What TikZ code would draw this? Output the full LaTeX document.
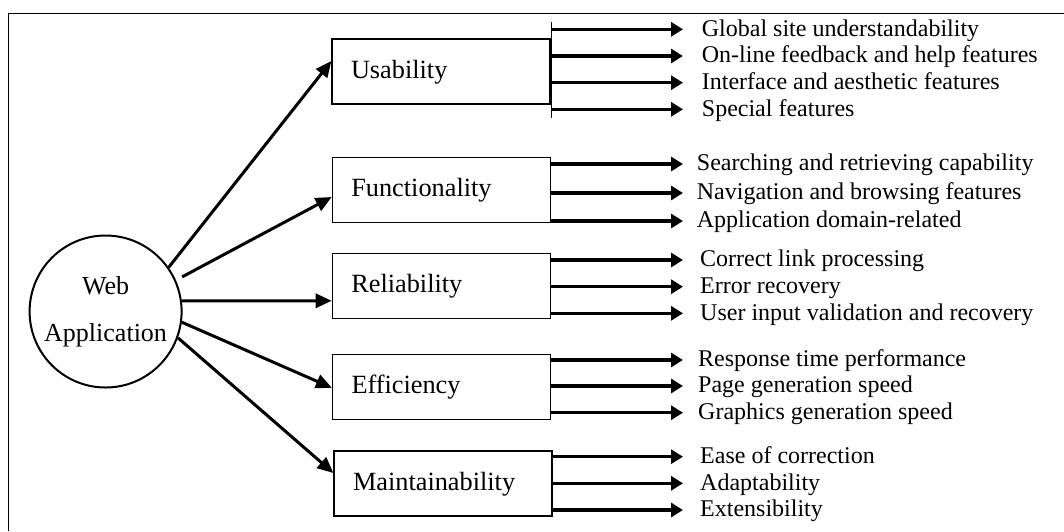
\documentclass[tikz,border=0pt]{standalone}
\usepackage{fontspec}
\setmainfont{Liberation Serif}
\usetikzlibrary{arrows.meta,calc}

\begin{document}
\begin{tikzpicture}[x=1pt,y=-1pt,
    box/.style={draw,line width=1.2pt,minimum width=218pt,minimum height=65pt,
        text width=180pt,align=left,inner xsep=19pt,text height=19pt,text depth=5.6pt,
        font=\fontsize{26.3}{30}\selectfont},
    item/.style={anchor=west,inner sep=0pt,text height=16.8pt,text depth=3.4pt,
        font=\fontsize{24}{28}\selectfont},
    link/.style={line width=3pt,-{Triangle[length=16pt,width=14pt]}},
    sub/.style={line width=3.2pt,-{Triangle[length=12pt,width=14pt]}}]
    \useasboundingbox (0,0) rectangle (1064,531);
    \draw [line width=1.8pt] (1064,13.5) -- (8.5,13.5) -- (8.5,531);
    \node (web) [draw,circle,line width=2pt,minimum size=152pt,align=center,
        font=\fontsize{26}{47}\selectfont] at (105.6,311.5) {Web\\Application};
    \node (usab) [box] at (441,71.5) {Usability};
    \node (func) [box] at (441.3,190) {Functionality};
    \node (reli) [box] at (441.3,285.8) {Reliability};
    \node (effi) [box] at (441.5,386.8) {Efficiency};
    \node (main) [box] at (443,483.5) {Maintainability};
    \draw [link] (web.35) -- ([yshift=10.5pt]usab.west);
    \draw [link,shorten <=7pt] (web.24) -- ([yshift=-7pt]func.west);
    \draw [link] (web.8) -- ([yshift=-15pt]reli.west);
    \draw [link] (web.-8) -- ([yshift=-1pt]effi.west);
    \draw [link] (web.-20) -- ([yshift=10.5pt]main.west);
    \coordinate (tip) at (683,0);
    \node (u1) [item] at (701.7,29.3) {Global site understandability};
    \node (u2) [item] at (701.7,56) {On-line feedback and help features};
    \node (u3) [item] at (701.7,82.7) {Interface and aesthetic features};
    \node (u4) [item] at (701.7,109.3) {Special features};
    \node (f1) [item] at (696.7,164) {Searching and retrieving capability};
    \node (f2) [item] at (696.7,193) {Navigation and browsing features};
    \node (f3) [item] at (696.7,221) {Application domain-related};
    \node (r1) [item] at (700,260) {Correct link processing};
    \node (r2) [item] at (700,286.7) {Error recovery};
    \node (r3) [item] at (700,313.3) {User input validation and recovery};
    \node (e1) [item] at (698,360) {Response time performance};
    \node (e2) [item] at (698,386) {Page generation speed};
    \node (e3) [item] at (698,412.7) {Graphics generation speed};
    \node (m1) [item] at (700,456.7) {Ease of correction};
    \node (m2) [item] at (700,483.3) {Adaptability};
    \node (m3) [item] at (700,510) {Extensibility};
    \draw [line width=1.4pt] ($(usab.east |- u1.west)+(0.7,-7.6)$)
        -- ($(usab.east |- u4.west)+(0.7,8.7)$);
    \draw [sub] (usab.east |- u1.west) -- (tip |- u1.west);
    \draw [sub] (usab.east |- u2.west) -- (tip |- u2.west);
    \draw [sub] (usab.east |- u3.west) -- (tip |- u3.west);
    \draw [sub] (usab.east |- u4.west) -- (tip |- u4.west);
    \draw [sub] (func.east |- f1.west) -- (tip |- f1.west);
    \draw [sub] (func.east |- f2.west) -- (tip |- f2.west);
    \draw [sub] (func.east |- f3.west) -- (tip |- f3.west);
    \draw [sub] (reli.east |- r1.west) -- (tip |- r1.west);
    \draw [sub] (reli.east |- r2.west) -- (tip |- r2.west);
    \draw [sub] (reli.east |- r3.west) -- (tip |- r3.west);
    \draw [sub] (effi.east |- e1.west) -- (tip |- e1.west);
    \draw [sub] (effi.east |- e2.west) -- (tip |- e2.west);
    \draw [sub] (effi.east |- e3.west) -- (tip |- e3.west);
    \draw [sub] (main.east |- m1.west) -- (tip |- m1.west);
    \draw [sub] (main.east |- m2.west) -- (tip |- m2.west);
    \draw [sub] (main.east |- m3.west) -- (tip |- m3.west);
\end{tikzpicture}
\end{document}
